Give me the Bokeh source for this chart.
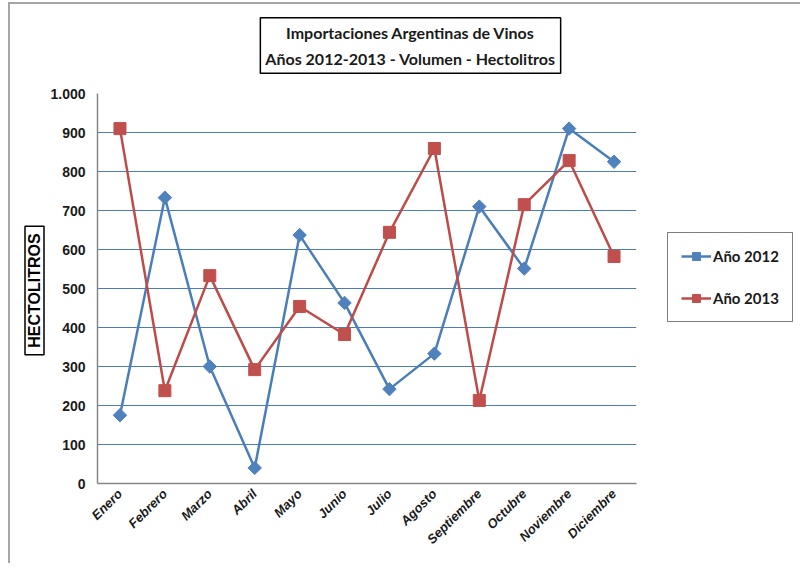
from math import pi
from bokeh.plotting import figure
from bokeh.models import (FactorRange, Range1d, FixedTicker, Label, Legend, LegendItem,
                          ColumnDataSource)
from bokeh.embed import file_html
from bokeh.resources import INLINE

meses = ["Enero", "Febrero", "Marzo", "Abril", "Mayo", "Junio", "Julio", "Agosto",
         "Septiembre", "Octubre", "Noviembre", "Diciembre"]
anio_2012 = [175, 733, 300, 40, 637, 463, 242, 333, 710, 551, 910, 825]
anio_2013 = [910, 238, 533, 292, 454, 382, 644, 859, 213, 715, 828, 582]
y_ticks = [0, 100, 200, 300, 400, 500, 600, 700, 800, 900, 1000]
y_tick_labels = ["0", "100", "200", "300", "400", "500", "600", "700", "800", "900", "1.000"]
titulo = "Importaciones Argentinas de Vinos\nAños 2012-2013 - Volumen - Hectolitros"
eje_y = "HECTOLITROS"
series_names = ["Año 2012", "Año 2013"]

src = ColumnDataSource(dict(mes=meses, a12=anio_2012, a13=anio_2013))

p = figure(x_range=FactorRange(*meses, range_padding=0), y_range=Range1d(0, 1000),
           frame_width=539, frame_height=390,
           min_border_left=87, min_border_top=89, min_border_right=156, min_border_bottom=80,
           output_backend="svg", toolbar_location=None,
           styles={"margin-left": "8px", "margin-top": "2px",
                   "border-left": "2px solid #a6a6a6", "border-top": "2px solid #a6a6a6"})
p.outline_line_color = None
p.background_fill_color = "white"
p.border_fill_color = "white"

# grid
p.xgrid.grid_line_color = None
p.ygrid.grid_line_color = "#4a7ebb"
p.ygrid.grid_line_width = 1
p.ygrid.ticker = FixedTicker(ticks=y_ticks[1:])

# axes
p.yaxis.ticker = FixedTicker(ticks=y_ticks)
p.yaxis.major_label_overrides = {t: l for t, l in zip(y_ticks, y_tick_labels)}
p.yaxis.major_tick_out = 0
p.yaxis.major_tick_in = 0
p.yaxis.minor_tick_out = 0
p.yaxis.minor_tick_in = 0
p.yaxis.axis_line_color = "#868686"
p.yaxis.axis_line_width = 1.5
p.yaxis.major_label_text_font = "Liberation Sans"
p.yaxis.major_label_text_font_style = "bold"
p.yaxis.major_label_text_font_size = "14px"
p.yaxis.major_label_text_color = "#1a1a1a"
p.yaxis.major_label_standoff = 12

p.xaxis.major_tick_out = 0
p.xaxis.major_tick_in = 0
p.xaxis.axis_line_color = "#868686"
p.xaxis.axis_line_width = 1.5
p.xaxis.major_label_orientation = pi / 4
p.xaxis.major_label_text_font = "Liberation Sans"
p.xaxis.major_label_text_font_style = "bold italic"
p.xaxis.major_label_text_font_size = "13px"
p.xaxis.major_label_text_color = "#1a1a1a"
p.xaxis.major_label_standoff = 8

# series
l1 = p.line("mes", "a12", source=src, line_color="#4a7ebb", line_width=2.5)
m1 = p.scatter("mes", "a12", source=src, marker="square", angle=pi / 4, size=9.5,
               fill_color="#4f81bd", line_color="#4f81bd")
l2 = p.line("mes", "a13", source=src, line_color="#be4b48", line_width=2.5)
m2 = p.scatter("mes", "a13", source=src, marker="square", size=12,
               fill_color="#c0504d", line_color="#c0504d")

legend = Legend(items=[LegendItem(label=series_names[0], renderers=[l1, m1]),
                       LegendItem(label=series_names[1], renderers=[l2, m2])],
                location=(31, 161), margin=0, border_line_color="black", border_line_width=1.5,
                label_text_font="Lato", label_text_font_style="bold", label_text_font_size="15px",
                label_text_color="#1a1a1a", glyph_width=30, glyph_height=20, spacing=22,
                padding=13, label_standoff=2, background_fill_color="white",
                background_fill_alpha=1)
p.add_layout(legend, "right")

# title box (in the panel above the frame)
p.add_layout(Label(x=313, y=48, x_units="screen", y_units="screen", text=titulo,
                   text_align="center", text_baseline="middle", text_font="Lato",
                   text_font_size="16px", text_font_style="bold", text_line_height=1.4,
                   padding=(5, 5), text_color="#1a1a1a", background_fill_color="white",
                   border_line_color="black", border_line_width=1.5), "above")

# boxed vertical axis title (in the panel left of the frame)
p.add_layout(Label(x=18, y=193, x_units="screen", y_units="screen", text=eje_y, angle=pi / 2,
                   text_align="center", text_baseline="middle", text_font="Liberation Sans",
                   text_font_size="16px", text_font_style="bold", padding=(7, 1),
                   text_color="black", background_fill_color="white",
                   border_line_color="black", border_line_width=1.5), "left")

open("out.html", "w").write(file_html(p, INLINE))
